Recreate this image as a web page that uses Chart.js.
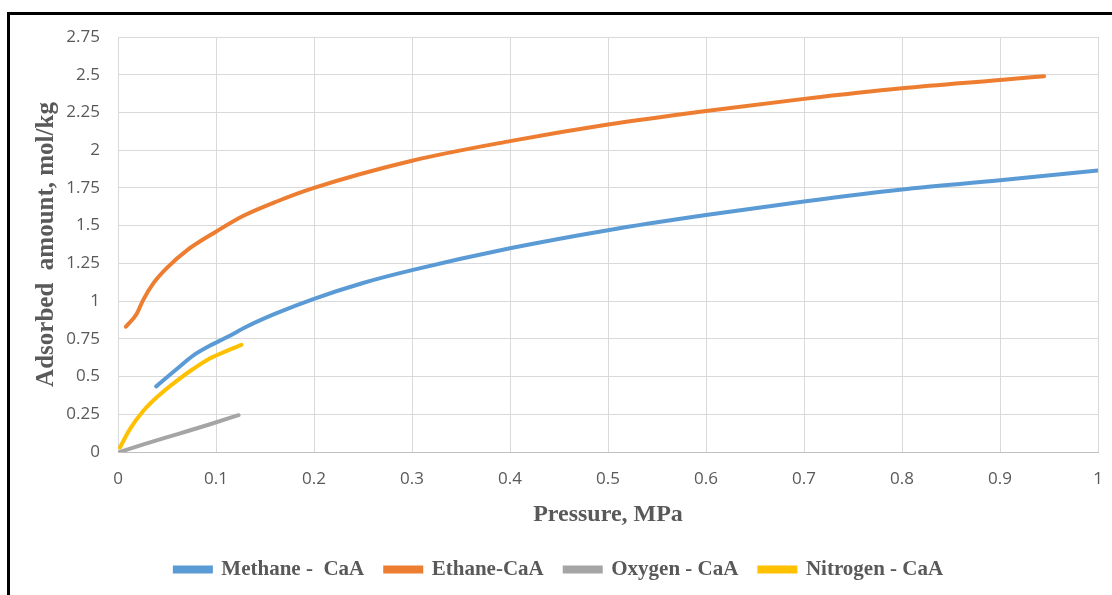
<!DOCTYPE html>
<html>
<head>
<meta charset="utf-8">
<script src="https://cdn.jsdelivr.net/npm/chart.js@4.4.0/dist/chart.umd.min.js"></script>
<style>
  html, body { margin: 0; padding: 0; background: #fff; }
  #wrap { position: relative; width: 1112px; height: 595px; overflow: hidden; }
  #frame { position: absolute; left: 7px; top: 12px; width: 1200px; height: 700px; border: 3px solid #000; box-sizing: border-box; pointer-events: none; }
  #chart { position: absolute; left: 0; top: 0; }
</style>
</head>
<body>
<div id="wrap">
  <canvas id="chart" width="1112" height="595"></canvas>
  <div id="frame"></div>
</div>
<script>
// pressure (MPa) and adsorbed amount (mol/kg)
const methaneP = [0.039, 0.06, 0.077, 0.094, 0.111, 0.131, 0.16, 0.2, 0.25, 0.3, 0.4, 0.5, 0.6, 0.7, 0.8, 0.9, 1.0];
const methaneQ = [0.435, 0.55, 0.64, 0.705, 0.76, 0.83, 0.915, 1.015, 1.12, 1.205, 1.35, 1.47, 1.57, 1.66, 1.74, 1.80, 1.866];

const ethaneP = [0.008, 0.019, 0.0255, 0.036, 0.051, 0.07, 0.1, 0.128, 0.162, 0.2, 0.3, 0.4, 0.5, 0.6, 0.7, 0.8, 0.9, 0.945];
const ethaneQ = [0.83, 0.915, 1.005, 1.117, 1.227, 1.335, 1.46, 1.565, 1.66, 1.75, 1.93, 2.06, 2.17, 2.26, 2.34, 2.41, 2.465, 2.49];

const oxygenP = [0.002, 0.026, 0.06, 0.094, 0.123];
const oxygenQ = [0.0, 0.05, 0.117, 0.184, 0.244];

const nitrogenP = [0.002, 0.012, 0.0255, 0.0426, 0.0596, 0.0766, 0.0936, 0.111, 0.126];
const nitrogenQ = [0.03, 0.15, 0.27, 0.38, 0.47, 0.55, 0.62, 0.67, 0.71];

const xTicks = [0, 0.1, 0.2, 0.3, 0.4, 0.5, 0.6, 0.7, 0.8, 0.9, 1];
const yTicks = [0, 0.25, 0.5, 0.75, 1, 1.25, 1.5, 1.75, 2, 2.25, 2.5, 2.75];

function pts(xs, ys) {
    return xs.map((x, i) => ({ x: x, y: ys[i] }));
}

function series(label, xs, ys, color) {
    return {
        label: label,
        data: pts(xs, ys),
        borderColor: color,
        backgroundColor: color,
        borderWidth: 4,
        pointRadius: 0,
        showLine: true,
        cubicInterpolationMode: 'monotone',
        borderCapStyle: 'round'
    };
}

const serif = 'Liberation Serif';
const grey = '#595959';

new Chart(document.getElementById('chart'), {
    type: 'scatter',
    data: {
        datasets: [
            series('Methane -  CaA', methaneP, methaneQ, '#5B9BD5'),
            series('Ethane-CaA', ethaneP, ethaneQ, '#ED7D31'),
            series('Oxygen - CaA', oxygenP, oxygenQ, '#A5A5A5'),
            series('Nitrogen - CaA', nitrogenP, nitrogenQ, '#FFC000')
        ]
    },
    options: {
        responsive: false,
        animation: false,
        layout: { padding: { left: 20, right: 14, top: 37, bottom: 5 } },
        plugins: {
            tooltip: { enabled: false },
            legend: {
                position: 'bottom',
                labels: {
                    boxWidth: 36,
                    boxHeight: 4,
                    padding: 21,
                    color: grey,
                    font: { family: serif, size: 21, weight: 'bold' }
                }
            }
        },
        scales: {
            x: {
                type: 'linear',
                min: 0,
                max: 1,
                afterBuildTicks: axis => { axis.ticks = xTicks.map(v => ({ value: v })); },
                afterFit: axis => { axis.height = 86; },
                ticks: {
                    color: grey,
                    padding: 0,
                    maxRotation: 0,
                    font: { family: 'Open Sans', size: 17 },
                    callback: v => String(v)
                },
                // invisible tick marks give the label gap without widening the right padding
                grid: { color: '#D9D9D9', drawTicks: true, tickLength: 17, tickColor: 'rgba(0,0,0,0)' },
                border: { color: '#BFBFBF' },
                title: {
                    display: true,
                    text: 'Pressure, MPa',
                    color: grey,
                    padding: { top: 0, bottom: 9 },
                    font: { family: serif, size: 24, weight: 'bold' }
                }
            },
            y: {
                min: 0,
                max: 2.75,
                afterBuildTicks: axis => { axis.ticks = yTicks.map(v => ({ value: v })); },
                afterFit: axis => { axis.width = 98; },
                ticks: {
                    color: grey,
                    padding: 18,
                    font: { family: 'Open Sans', size: 17 },
                    callback: v => String(v)
                },
                grid: { color: '#D9D9D9', drawTicks: false },
                border: { display: false },
                title: {
                    display: true,
                    text: 'Adsorbed  amount, mol/kg',
                    color: grey,
                    padding: { top: 12, bottom: 0 },
                    font: { family: serif, size: 25, weight: 'bold' }
                }
            }
        }
    }
});
</script>
</body>
</html>
